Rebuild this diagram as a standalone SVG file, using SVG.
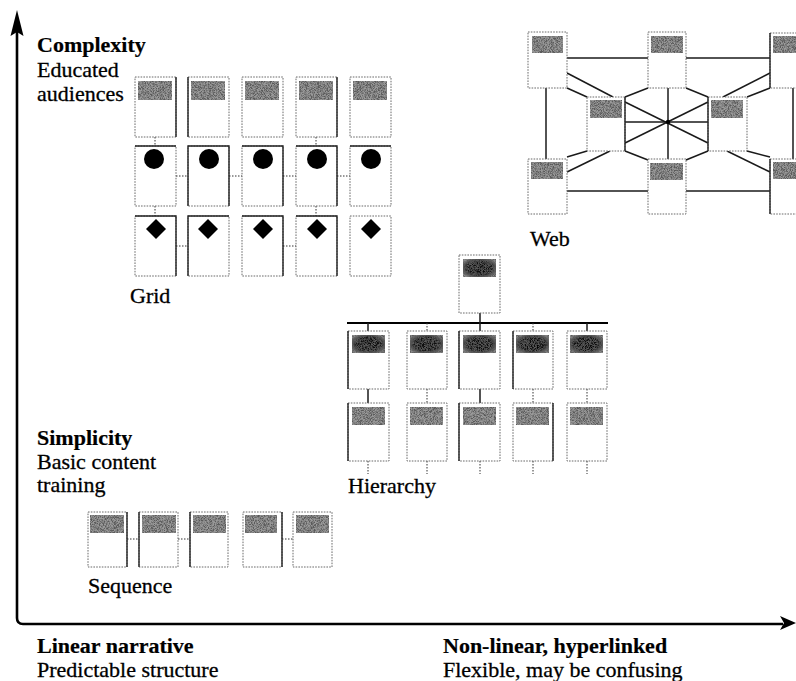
<svg xmlns="http://www.w3.org/2000/svg" width="796" height="681" viewBox="0 0 796 681">
  <defs>
    <!-- speckled halftone used for page headers -->
    <filter id="grain" x="0" y="0" width="1" height="1">
      <feTurbulence type="fractalNoise" baseFrequency="1.3" numOctaves="2" seed="4" result="n"/>
      <feColorMatrix in="n" type="matrix" values="0 0 0 0 0.1  0 0 0 0 0.1  0 0 0 0 0.1  3.2 0 0 0 -1.15" result="d"/>
      <feComposite in="d" in2="SourceGraphic" operator="in" result="c"/>
      <feMerge><feMergeNode in="SourceGraphic"/><feMergeNode in="c"/></feMerge>
    </filter>
    <radialGradient id="darkCore" cx="0.5" cy="0.5" r="0.6">
      <stop offset="0" stop-color="#080808"/>
      <stop offset="0.6" stop-color="#141414"/>
      <stop offset="1" stop-color="#8a8a8a"/>
    </radialGradient>
    <style>
      .pg { fill: #fff; stroke: #6a6a6a; stroke-width: 1; stroke-dasharray: 1.6 1.2; }
      .edge { stroke: #222; stroke-width: 1.4; fill: none; }
      .hd { fill: #9a9a9a; filter: url(#grain); }
      .hdk { fill: url(#darkCore); filter: url(#grain); }
      .mark { fill: #000; }
      .dot { stroke: #333; stroke-width: 1; stroke-dasharray: 1.5 1.5; fill: none; }
      .ln { stroke: #1a1a1a; stroke-width: 1.5; fill: none; }
      .axis { stroke: #000; stroke-width: 2.6; fill: none; }
      text { font-family: "Liberation Serif", "Times New Roman", serif; font-size: 22px; fill: #000; stroke: #000; stroke-width: 0.3; }
      .b { font-weight: bold; stroke-width: 0.2; }
    </style>
  </defs>

  <!-- axes -->
  <g id="axes">
    <path class="axis" d="M17,32 V618 Q17,624 23,624 H783"/>
    <polygon points="17,10 10.5,36 17,32 23.5,36" fill="#000"/>
    <polygon points="796,623 780,616 784,623 780,630" fill="#000"/>
  </g>

  <!-- axis captions -->
  <g id="captions">
    <text class="b" x="37" y="52">Complexity</text>
    <text x="37" y="77">Educated</text>
    <text x="37" y="101">audiences</text>
    <text class="b" x="37" y="445">Simplicity</text>
    <text x="37" y="469">Basic content</text>
    <text x="37" y="492">training</text>
    <text class="b" x="37" y="653">Linear narrative</text>
    <text x="37" y="677">Predictable structure</text>
    <text class="b" x="443" y="653">Non-linear, hyperlinked</text>
    <text x="443" y="677">Flexible, may be confusing</text>
    <text x="130" y="303">Grid</text>
    <text x="530" y="246">Web</text>
    <text x="348" y="493">Hierarchy</text>
    <text x="88" y="593">Sequence</text>
  </g>

  <!-- connectors -->
  <g id="connectors">
    <!-- grid links -->
    <line class="dot" x1="155" y1="137" x2="155" y2="146"/>
    <line class="dot" x1="316" y1="137" x2="316" y2="146"/>
    <line class="dot" x1="155" y1="206" x2="155" y2="216"/>
    <line class="dot" x1="316" y1="206" x2="316" y2="216"/>
    <line class="dot" x1="176" y1="176" x2="188" y2="176"/>
    <line class="dot" x1="229" y1="176" x2="242" y2="176"/>
    <line class="dot" x1="283" y1="176" x2="296" y2="176"/>
    <line class="dot" x1="337" y1="176" x2="350" y2="176"/>
    <line class="dot" x1="176" y1="246" x2="188" y2="246"/>
    <line class="dot" x1="283" y1="246" x2="296" y2="246"/>

    <!-- web links -->
    <line class="ln" x1="567" y1="58" x2="648" y2="58"/>
    <line class="ln" x1="686" y1="58" x2="770" y2="58"/>
    <line class="ln" x1="567" y1="191" x2="648" y2="191"/>
    <line class="ln" x1="686" y1="191" x2="770" y2="191"/>
    <line class="ln" x1="546" y1="88" x2="546" y2="159"/>
    <line class="ln" x1="793" y1="88" x2="793" y2="159"/>
    <line class="ln" x1="567" y1="73" x2="613" y2="97"/>
    <line class="ln" x1="567" y1="88" x2="587" y2="97"/>
    <line class="ln" x1="648" y1="88" x2="625" y2="97"/>
    <line class="ln" x1="686" y1="88" x2="708" y2="97"/>
    <line class="ln" x1="770" y1="73" x2="723" y2="97"/>
    <line class="ln" x1="770" y1="88" x2="747" y2="97"/>
    <line class="ln" x1="610" y1="151" x2="567" y2="172"/>
    <line class="ln" x1="587" y1="151" x2="567" y2="157"/>
    <line class="ln" x1="727" y1="151" x2="770" y2="172"/>
    <line class="ln" x1="747" y1="151" x2="770" y2="157"/>
    <line class="ln" x1="625" y1="151" x2="648" y2="160"/>
    <line class="ln" x1="708" y1="151" x2="686" y2="160"/>
    <line class="ln" x1="625" y1="102" x2="708" y2="143"/>
    <line class="ln" x1="625" y1="143" x2="708" y2="102"/>
    <line class="ln" x1="625" y1="122" x2="708" y2="122"/>
    <line class="ln" x1="668" y1="88" x2="668" y2="159"/>
    <circle cx="668" cy="122" r="2.2" fill="#000"/>

    <!-- hierarchy links -->
    <line class="axis" style="stroke-width:2" x1="347" y1="323" x2="608" y2="323"/>
    <line class="ln" x1="480" y1="313" x2="480" y2="323"/>
    <line class="ln" x1="368" y1="323" x2="368" y2="331"/>
    <line class="dot" x1="427" y1="323" x2="427" y2="331"/>
    <line class="ln" x1="480" y1="323" x2="480" y2="331"/>
    <line class="dot" x1="533" y1="323" x2="533" y2="331"/>
    <line class="ln" x1="587" y1="323" x2="587" y2="331"/>
    <line class="ln" x1="368" y1="389" x2="368" y2="403"/>
    <line class="dot" x1="427" y1="389" x2="427" y2="403"/>
    <line class="ln" x1="480" y1="389" x2="480" y2="403"/>
    <line class="dot" x1="533" y1="389" x2="533" y2="403"/>
    <line class="dot" x1="587" y1="389" x2="587" y2="403"/>
    <line class="dot" x1="368" y1="461" x2="368" y2="474"/>
    <line class="dot" x1="427" y1="461" x2="427" y2="474"/>
    <line class="dot" x1="480" y1="461" x2="480" y2="474"/>
    <line class="dot" x1="533" y1="461" x2="533" y2="474"/>
    <line class="dot" x1="587" y1="461" x2="587" y2="474"/>

    <!-- sequence links -->
    <line class="dot" x1="127" y1="539" x2="139" y2="539"/>
    <line class="dot" x1="178" y1="539" x2="190" y2="539"/>
    <line class="dot" x1="282" y1="539" x2="293" y2="539"/>
  </g>

  <!-- grid pages: row 1 -->
  <g id="grid-r1c1"><rect class="pg" x="135" y="77" width="41" height="60"/><line class="edge" x1="176" y1="77" x2="176" y2="137"/><rect class="hd" x="138" y="81" width="34" height="19"/></g>
  <g id="grid-r1c2"><rect class="pg" x="188" y="77" width="41" height="60"/><line class="edge" x1="188" y1="77" x2="188" y2="137"/><rect class="hd" x="191" y="81" width="34" height="19"/></g>
  <g id="grid-r1c3"><rect class="pg" x="242" y="77" width="41" height="60"/><rect class="hd" x="245" y="81" width="34" height="19"/></g>
  <g id="grid-r1c4"><rect class="pg" x="296" y="77" width="41" height="60"/><line class="edge" x1="337" y1="77" x2="337" y2="137"/><rect class="hd" x="299" y="81" width="34" height="19"/></g>
  <g id="grid-r1c5"><rect class="pg" x="350" y="77" width="41" height="60"/><rect class="hd" x="353" y="81" width="34" height="19"/></g>

  <!-- grid pages: row 2 -->
  <g id="grid-r2c1"><rect class="pg" x="135" y="146" width="41" height="60"/><line class="edge" x1="135" y1="146" x2="176" y2="146"/><circle class="mark" cx="154" cy="159" r="10"/></g>
  <g id="grid-r2c2"><rect class="pg" x="188" y="146" width="41" height="60"/><path class="edge" d="M188,206 V146 H229 V206"/><circle class="mark" cx="209" cy="159" r="10"/></g>
  <g id="grid-r2c3"><rect class="pg" x="242" y="146" width="41" height="60"/><path class="edge" d="M242,146 H283 V206"/><circle class="mark" cx="263" cy="159" r="10"/></g>
  <g id="grid-r2c4"><rect class="pg" x="296" y="146" width="41" height="60"/><path class="edge" d="M296,146 H337 V206"/><circle class="mark" cx="317" cy="159" r="10"/></g>
  <g id="grid-r2c5"><rect class="pg" x="350" y="146" width="41" height="60"/><line class="edge" x1="350" y1="146" x2="391" y2="146"/><circle class="mark" cx="371" cy="159" r="10"/></g>

  <!-- grid pages: row 3 -->
  <g id="grid-r3c1"><rect class="pg" x="135" y="216" width="41" height="60"/><path class="edge" d="M135,216 H176 V276"/><polygon class="mark" points="156,219 166,229 156,239 146,229"/></g>
  <g id="grid-r3c2"><rect class="pg" x="188" y="216" width="41" height="60"/><path class="edge" d="M188,276 V216 H229"/><polygon class="mark" points="208,219 218,229 208,239 198,229"/></g>
  <g id="grid-r3c3"><rect class="pg" x="242" y="216" width="41" height="60"/><path class="edge" d="M242,216 H283 V276"/><polygon class="mark" points="263,219 273,229 263,239 253,229"/></g>
  <g id="grid-r3c4"><rect class="pg" x="296" y="216" width="41" height="60"/><path class="edge" d="M296,216 H337 V276"/><polygon class="mark" points="317,219 327,229 317,239 307,229"/></g>
  <g id="grid-r3c5"><rect class="pg" x="350" y="216" width="41" height="60"/><polygon class="mark" points="371,219 381,229 371,239 361,229"/></g>

  <!-- web pages -->
  <g id="web-tl"><rect class="pg" x="528" y="32" width="39" height="56"/><rect class="hd" x="532" y="36" width="31" height="17"/></g>
  <g id="web-tm"><rect class="pg" x="648" y="32" width="38" height="56"/><rect class="hd" x="651" y="36" width="32" height="17"/></g>
  <g id="web-tr"><rect class="pg" x="770" y="33" width="38" height="55"/><line class="edge" x1="770" y1="33" x2="770" y2="88"/><rect class="hd" x="773" y="36" width="32" height="17"/></g>
  <g id="web-ml"><rect class="pg" x="587" y="97" width="38" height="54"/><line class="edge" x1="625" y1="97" x2="625" y2="151"/><rect class="hd" x="590" y="100" width="32" height="18"/></g>
  <g id="web-mr"><rect class="pg" x="708" y="97" width="39" height="54"/><line class="edge" x1="708" y1="97" x2="708" y2="151"/><rect class="hd" x="711" y="100" width="32" height="18"/></g>
  <g id="web-bl"><rect class="pg" x="528" y="159" width="39" height="55"/><rect class="hd" x="531" y="162" width="32" height="17"/></g>
  <g id="web-bm"><rect class="pg" x="648" y="159" width="38" height="55"/><rect class="hd" x="650" y="163" width="33" height="17"/></g>
  <g id="web-br"><rect class="pg" x="770" y="159" width="38" height="55"/><line class="edge" x1="770" y1="159" x2="770" y2="214"/><rect class="hd" x="773" y="162" width="32" height="17"/></g>

  <!-- hierarchy pages -->
  <g id="hier-root"><rect class="pg" x="459" y="255" width="41" height="58"/><rect class="hdk" x="463" y="259" width="33" height="18"/></g>
  <g id="hier-a1"><rect class="pg" x="348" y="331" width="41" height="58"/><line class="edge" x1="348" y1="331" x2="348" y2="389"/><rect class="hdk" x="352" y="335" width="33" height="18"/></g>
  <g id="hier-b1"><rect class="pg" x="407" y="331" width="40" height="58"/><rect class="hdk" x="410" y="335" width="33" height="18"/></g>
  <g id="hier-c1"><rect class="pg" x="459" y="331" width="41" height="58"/><line class="edge" x1="459" y1="331" x2="459" y2="389"/><rect class="hdk" x="463" y="335" width="33" height="18"/></g>
  <g id="hier-d1"><rect class="pg" x="513" y="331" width="40" height="58"/><line class="edge" x1="513" y1="331" x2="513" y2="389"/><rect class="hdk" x="516" y="335" width="33" height="18"/></g>
  <g id="hier-e1"><rect class="pg" x="567" y="331" width="40" height="58"/><rect class="hdk" x="570" y="335" width="33" height="18"/></g>
  <g id="hier-a2"><rect class="pg" x="348" y="403" width="41" height="58"/><line class="edge" x1="348" y1="403" x2="348" y2="461"/><rect class="hd" x="352" y="407" width="33" height="18"/></g>
  <g id="hier-b2"><rect class="pg" x="407" y="403" width="40" height="58"/><rect class="hd" x="410" y="407" width="33" height="18"/></g>
  <g id="hier-c2"><rect class="pg" x="459" y="403" width="41" height="58"/><line class="edge" x1="459" y1="403" x2="459" y2="461"/><rect class="hd" x="463" y="407" width="33" height="18"/></g>
  <g id="hier-d2"><rect class="pg" x="513" y="403" width="40" height="58"/><line class="edge" x1="553" y1="403" x2="553" y2="461"/><rect class="hd" x="516" y="407" width="33" height="18"/></g>
  <g id="hier-e2"><rect class="pg" x="567" y="403" width="40" height="58"/><rect class="hd" x="570" y="407" width="33" height="18"/></g>

  <!-- sequence pages -->
  <g id="seq-1"><rect class="pg" x="88" y="512" width="39" height="55"/><line class="edge" x1="127" y1="512" x2="127" y2="567"/><rect class="hd" x="90" y="515" width="34" height="18"/></g>
  <g id="seq-2"><rect class="pg" x="139" y="512" width="39" height="55"/><line class="edge" x1="139" y1="512" x2="139" y2="567"/><rect class="hd" x="142" y="515" width="34" height="18"/></g>
  <g id="seq-3"><rect class="pg" x="190" y="512" width="38" height="55"/><line class="edge" x1="190" y1="512" x2="190" y2="567"/><rect class="hd" x="193" y="515" width="33" height="18"/></g>
  <g id="seq-4"><rect class="pg" x="243" y="512" width="39" height="55"/><line class="edge" x1="282" y1="512" x2="282" y2="567"/><rect class="hd" x="245" y="515" width="32" height="18"/></g>
  <g id="seq-5"><rect class="pg" x="293" y="512" width="39" height="55"/><rect class="hd" x="296" y="515" width="33" height="18"/></g>
</svg>
